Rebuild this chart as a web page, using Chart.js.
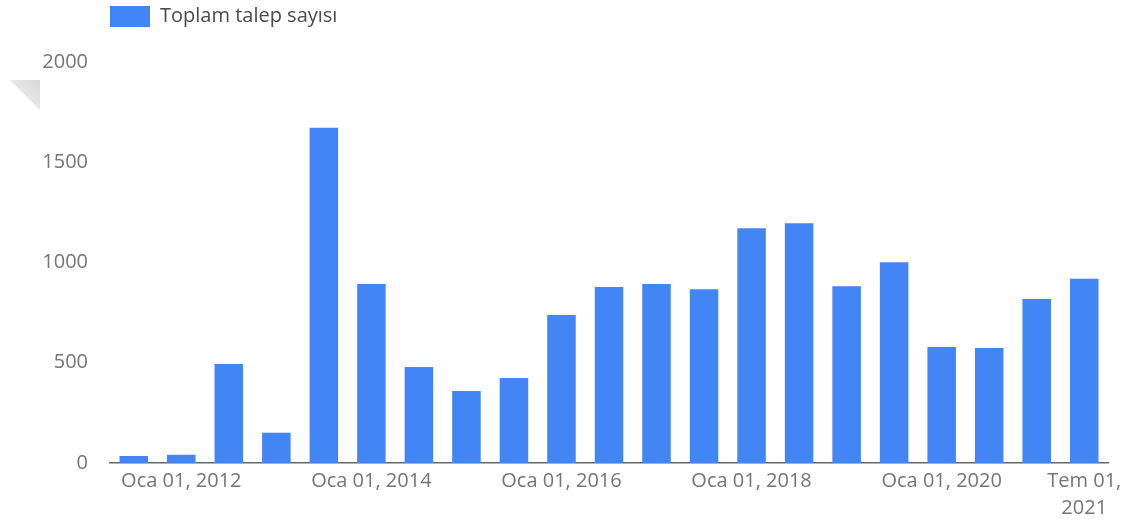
<!DOCTYPE html>
<html lang="tr">
<head>
<meta charset="utf-8">
<title>Toplam talep sayısı</title>
<script src="https://cdn.jsdelivr.net/npm/chart.js@4/dist/chart.umd.min.js"></script>
<style>
    body { margin: 0; background: #fff; }
    #wrap { position: relative; width: 1131px; height: 522px; }
    #corner {
        position: absolute; left: 10px; top: 80px; width: 30px; height: 30px;
        clip-path: polygon(0 0, 100% 0, 100% 100%);
        background: linear-gradient(225deg, #d8d8d8, #f1f1f1);
    }
</style>
</head>
<body>
<div id="wrap">
    <canvas id="talepChart" width="1131" height="522"></canvas>
    <div id="corner"></div>
</div>
<script>
// Veriler (altı aylık dönemler)
const donemler = [
    'Tem 01, 2011', 'Oca 01, 2012', 'Tem 01, 2012', 'Oca 01, 2013', 'Tem 01, 2013',
    'Oca 01, 2014', 'Tem 01, 2014', 'Oca 01, 2015', 'Tem 01, 2015', 'Oca 01, 2016',
    'Tem 01, 2016', 'Oca 01, 2017', 'Tem 01, 2017', 'Oca 01, 2018', 'Tem 01, 2018',
    'Oca 01, 2019', 'Tem 01, 2019', 'Oca 01, 2020', 'Tem 01, 2020', 'Oca 01, 2021',
    'Tem 01, 2021'
];
const talepSayisi = [
    35, 41, 494, 151, 1672, 893, 479, 359, 424, 738,
    878, 893, 866, 1171, 1196, 881, 1001, 579, 574, 818, 919
];
const gosterilenEtiketler = [1, 5, 9, 13, 17, 20];
const yTicks = [0, 500, 1000, 1500, 2000];

Chart.defaults.font.family = "'Open Sans', sans-serif";

// Lejantı grafiğin sol kenarına hizala
const legendShift = {
    id: 'legendShift',
    afterLayout(chart) {
        const lg = chart.legend;
        lg.left += 104; lg.right += 104;
        lg.top -= 25; lg.bottom -= 25;
    }
};

const ctx = document.getElementById('talepChart').getContext('2d');
const talepChart = new Chart(ctx, {
    type: 'bar',
    data: {
        labels: donemler,
        datasets: [{
            label: 'Toplam talep sayısı',
            data: talepSayisi,
            backgroundColor: '#4285f4',
            borderWidth: 0,
            barPercentage: 0.6,
            categoryPercentage: 1
        }]
    },
    options: {
        responsive: false,
        animation: false,
        layout: { padding: { top: 25, right: 23, bottom: 0, left: 0 } },
        plugins: {
            legend: {
                position: 'top',
                align: 'start',
                labels: {
                    boxWidth: 40,
                    boxHeight: 21,
                    padding: 6,
                    color: '#4a4a4a',
                    font: { size: 20 }
                }
            },
            tooltip: { enabled: false }
        },
        scales: {
            x: {
                grid: { display: false, drawTicks: false },
                border: { display: true, color: '#666', width: 1.5 },
                afterFit: function(axis) { axis.height = 59; },
                ticks: {
                    autoSkip: false,
                    maxRotation: 0,
                    padding: 5,
                    color: '#757575',
                    font: { size: 20, lineHeight: 1.35 },
                    callback: function(value, index) {
                        if (!gosterilenEtiketler.includes(index)) return '';
                        const lbl = donemler[index];
                        if (index === donemler.length - 1) {
                            const parts = lbl.split(' ');
                            return [parts[0] + ' ' + parts[1], parts[2]];
                        }
                        return lbl;
                    }
                }
            },
            y: {
                min: 0,
                max: 2000,
                grid: { display: false, drawTicks: false },
                border: { display: false },
                afterFit: function(axis) { axis.width = 110; },
                afterBuildTicks: function(axis) {
                    axis.ticks = yTicks.map(v => ({ value: v }));
                },
                ticks: {
                    padding: 22,
                    color: '#757575',
                    font: { size: 20 },
                    callback: function(value) { return String(value); }
                }
            }
        }
    },
    plugins: [legendShift]
});
</script>
</body>
</html>
